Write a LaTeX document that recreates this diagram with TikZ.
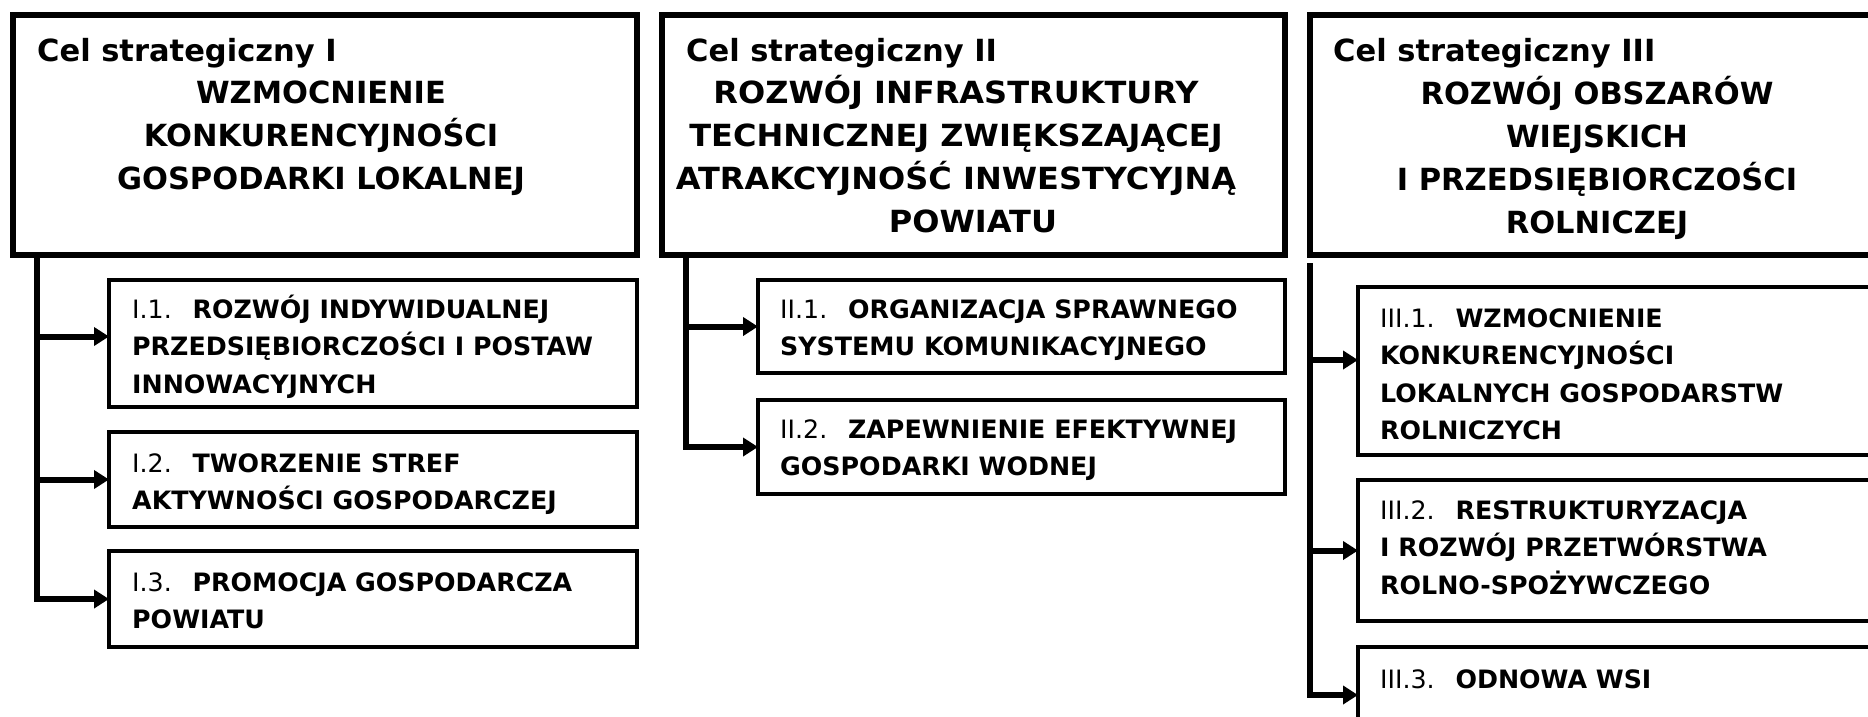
\documentclass[tikz,border=0pt]{standalone}
\usepackage{fontspec}
\setmainfont{DejaVu Sans}
\newfontfamily\widefont{DejaVu Sans}[FakeStretch=1.05]
\usetikzlibrary{arrows.meta}
\newcommand{\mytitle}[1]{\begin{tabular}[t]{@{}c@{}}#1\end{tabular}}
\newcommand{\mysub}[1]{\begin{tabular}[t]{@{}l@{}}#1\end{tabular}}
\newcommand{\pre}[1]{{\mdseries #1}\hspace{9pt}}
\begin{document}
\begin{tikzpicture}[x=1pt,y=-1pt,
  bigbox/.style={draw, line width=6.5pt, rectangle, outer sep=0pt, inner sep=0pt, anchor=north west},
  subbox/.style={draw, line width=3.3pt, rectangle, outer sep=0pt, inner sep=0pt, anchor=north west},
  celtxt/.style={anchor=base west, inner sep=0pt, font=\fontsize{30.5}{40}\selectfont\bfseries},
  ttltxt/.style={anchor=base, inner sep=0pt, font=\fontsize{30.5}{43.3}\selectfont\bfseries},
  subtxt/.style={anchor=base west, inner sep=0pt, font=\fontsize{25.3}{37.5}\selectfont\bfseries},
  arr/.style={line width=6pt, -{Triangle[length=15pt,width=18pt]}}]
\clip (0,0) rectangle (1868,716);
\fill[white] (0,0) rectangle (1868,716);

% strategic goals
\node[bigbox, minimum width=624pt, minimum height=240pt] (G1) at (13,15) {};
\node[bigbox, minimum width=623pt, minimum height=240pt] (G2) at (662,15) {};
\node[bigbox, minimum width=640pt, minimum height=240pt] (G3) at (1310,15) {};

\node[celtxt] (C1) at (37,61) {Cel strategiczny I};
\node[celtxt] (C2) at (686,61) {Cel strategiczny II};
\node[celtxt] (C3) at (1333,61) {Cel strategiczny III};

\node[ttltxt] (T1) at (321,103) {\mytitle{WZMOCNIENIE\\KONKURENCYJNOŚCI\\GOSPODARKI LOKALNEJ}};
\node[ttltxt, font=\widefont\fontsize{30.5}{43.3}\selectfont\bfseries] (T2) at (956,103) {\mytitle{ROZWÓJ INFRASTRUKTURY\\TECHNICZNEJ ZWIĘKSZAJĄCEJ\\ATRAKCYJNOŚĆ INWESTYCYJNĄ\\\hspace*{34pt}POWIATU}};
\node[ttltxt] (T3) at (1597,104) {\mytitle{ROZWÓJ OBSZARÓW\\WIEJSKICH\\I PRZEDSIĘBIORCZOŚCI\\ROLNICZEJ}};

% operational goals
\node[subbox, minimum width=528pt, minimum height=127pt] (S11) at (109,280) {};
\node[subbox, minimum width=528pt, minimum height=95pt] (S12) at (109,432) {};
\node[subbox, minimum width=528pt, minimum height=96pt] (S13) at (109,551) {};
\node[subbox, minimum width=527pt, minimum height=93pt] (S21) at (758,280) {};
\node[subbox, minimum width=527pt, minimum height=94pt] (S22) at (758,400) {};
\node[subbox, minimum width=600pt, minimum height=168pt] (S31) at (1358,287) {};
\node[subbox, minimum width=600pt, minimum height=141pt] (S32) at (1358,480) {};
\node[subbox, minimum width=600pt, minimum height=96pt] (S33) at (1358,647) {};

\node[subtxt] (L11) at ([xshift=23pt,yshift=-38pt]S11.north west) {\mysub{\pre{I.1.} ROZWÓJ INDYWIDUALNEJ\\PRZEDSIĘBIORCZOŚCI I POSTAW\\INNOWACYJNYCH}};
\node[subtxt] (L12) at ([xshift=23pt,yshift=-40pt]S12.north west) {\mysub{\pre{I.2.} TWORZENIE STREF\\AKTYWNOŚCI GOSPODARCZEJ}};
\node[subtxt] (L13) at ([xshift=23pt,yshift=-40pt]S13.north west) {\mysub{\pre{I.3.} PROMOCJA GOSPODARCZA\\POWIATU}};
\node[subtxt] (L21) at ([xshift=22pt,yshift=-38pt]S21.north west) {\mysub{\pre{II.1.} ORGANIZACJA SPRAWNEGO\\SYSTEMU KOMUNIKACYJNEGO}};
\node[subtxt] (L22) at ([xshift=22pt,yshift=-38pt]S22.north west) {\mysub{\pre{II.2.} ZAPEWNIENIE EFEKTYWNEJ\\GOSPODARKI WODNEJ}};
\node[subtxt] (L31) at ([xshift=22pt,yshift=-40pt]S31.north west) {\mysub{\pre{III.1.} WZMOCNIENIE\\KONKURENCYJNOŚCI\\LOKALNYCH GOSPODARSTW\\ROLNICZYCH}};
\node[subtxt] (L32) at ([xshift=22pt,yshift=-39pt]S32.north west) {\mysub{\pre{III.2.} RESTRUKTURYZACJA\\I ROZWÓJ PRZETWÓRSTWA\\ROLNO-SPOŻYWCZEGO}};
\node[subtxt] (L33) at ([xshift=22pt,yshift=-41pt]S33.north west) {\mysub{\pre{III.3.} ODNOWA WSI}};

% trunk coordinates
\coordinate (K1) at ([xshift=24pt]G1.south west);
\coordinate (K2) at ([xshift=24pt]G2.south west);
\coordinate (K3) at ([yshift=-8pt]G3.south west);
\coordinate (A11) at ([yshift=7pt]S11.west);
\coordinate (A31) at ([yshift=11pt]S31.west);

% connectors column I
\draw[arr] (K1) |- (S13.west);
\draw[arr] (K1 |- A11) -- (A11);
\draw[arr] (K1 |- S12.west) -- (S12.west);
% connectors column II
\draw[arr] (K2) |- (S22.west);
\draw[arr] (K2 |- S21.west) -- (S21.west);
% connectors column III
\draw[arr] (K3) |- (S33.west);
\draw[arr] (K3 |- A31) -- (A31);
\draw[arr] (K3 |- S32.west) -- (S32.west);
\end{tikzpicture}
\end{document}
